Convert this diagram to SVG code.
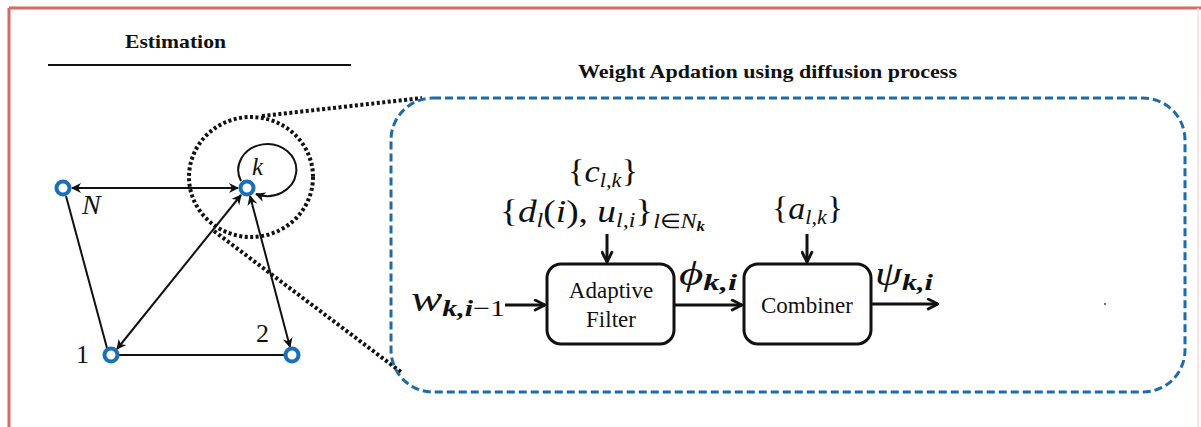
<svg xmlns="http://www.w3.org/2000/svg" width="1201" height="427" viewBox="0 0 1201 427">
  <defs>
    <style>
      .title { font-family: "Liberation Serif", "Times New Roman", serif; font-weight: bold; font-size: 19px; fill: #111; }
      .math { font-family: "Liberation Serif", "Times New Roman", serif; font-style: italic; fill: #111; }
      .up { font-style: normal; }
      .sub { font-weight: bold; }
      .rm { font-family: "Liberation Serif", "Times New Roman", serif; font-style: normal; fill: #111; }
      .node { fill: #fff; stroke: #1a6fb8; stroke-width: 4; }
      .edge { stroke: #111; stroke-width: 2; fill: none; }
      .flow { stroke: #111; stroke-width: 3; fill: none; }
      .block { fill: #fff; stroke: #111; stroke-width: 3; }
      .dots { stroke: #111; stroke-width: 4; fill: none; stroke-dasharray: 3 2.5; }
    </style>
    <marker id="ah" viewBox="0 0 10 10" refX="9" refY="5" markerWidth="10" markerHeight="10" markerUnits="userSpaceOnUse" orient="auto-start-reverse">
      <path d="M0,0 L10,5 L0,10 L3,5 z" fill="#111"/>
    </marker>
    <marker id="ahb" viewBox="0 0 12 12" refX="11" refY="6" markerWidth="13" markerHeight="13" markerUnits="userSpaceOnUse" orient="auto">
      <path d="M1,1 L11,6 L1,11" fill="none" stroke="#111" stroke-width="2.6" stroke-linejoin="miter"/>
    </marker>
  </defs>

  <rect width="1201" height="427" fill="#fff"/>
  <!-- outer frame -->
  <line x1="9" y1="8" x2="1201" y2="8" stroke="#d66a66" stroke-width="3"/>
  <line x1="9" y1="8" x2="9" y2="427" stroke="#d66a66" stroke-width="3"/>
  <line x1="1198" y1="8" x2="1198" y2="427" stroke="#f6dcdc" stroke-width="1.5"/>

  <!-- section headings -->
  <text class="title" x="125" y="48" textLength="101" lengthAdjust="spacingAndGlyphs">Estimation</text>
  <line x1="48" y1="65" x2="351" y2="65" stroke="#111" stroke-width="2"/>
  <text class="title" x="578" y="78" textLength="379" lengthAdjust="spacingAndGlyphs">Weight Apdation using diffusion process</text>

  <!-- zoom callout: neighbourhood of k -->
  <g id="zoom-callout">
    <ellipse class="dots" cx="251" cy="177" rx="62" ry="60"/>
    <line class="dots" x1="262" y1="116" x2="422" y2="98"/>
    <line class="dots" x1="214" y1="231" x2="401" y2="372"/>
    <rect x="391" y="98" width="794" height="294" rx="42" ry="42" fill="none" stroke="#1f6aa8" stroke-width="3" stroke-dasharray="8 4"/>
  </g>

  <!-- network links -->
  <g id="connectors">
    <line class="edge" x1="72" y1="188" x2="238" y2="188" marker-start="url(#ah)" marker-end="url(#ah)"/>
    <line class="edge" x1="66" y1="196" x2="107" y2="348"/>
    <line class="edge" x1="117" y1="349" x2="241" y2="195" marker-start="url(#ah)" marker-end="url(#ah)"/>
    <line class="edge" x1="250" y1="196" x2="290" y2="347" marker-start="url(#ah)" marker-end="url(#ah)"/>
    <line class="edge" x1="118" y1="355" x2="285" y2="355" stroke-width="3"/>
    <path class="edge" d="M241,181 A29,26 0 1 1 256,194" marker-end="url(#ah)"/>
  </g>

  <!-- agents -->
  <g id="node-N">
    <circle class="node" cx="63" cy="188" r="6.5"/>
    <text class="math" x="82" y="214" font-size="28">N</text>
  </g>
  <g id="node-k">
    <circle class="node" cx="247" cy="188" r="6.5"/>
    <text class="math" x="252" y="175" font-size="25">k</text>
  </g>
  <g id="node-1">
    <circle class="node" cx="111" cy="355" r="6.5"/>
    <text class="rm" x="76" y="363" font-size="26">1</text>
  </g>
  <g id="node-2">
    <circle class="node" cx="292" cy="355" r="6.5"/>
    <text class="rm" x="256" y="342" font-size="26">2</text>
  </g>

  <!-- diffusion block diagram -->
  <g id="block-connectors">
    <line class="flow" x1="505" y1="305" x2="545" y2="305" marker-end="url(#ahb)"/>
    <line class="flow" x1="675" y1="305" x2="742" y2="305" marker-end="url(#ahb)"/>
    <line class="flow" x1="872" y1="304" x2="938" y2="304" marker-end="url(#ahb)"/>
    <line class="flow" x1="607" y1="234" x2="607" y2="262" marker-end="url(#ahb)"/>
    <line class="flow" x1="807" y1="234" x2="807" y2="262" marker-end="url(#ahb)"/>
  </g>

  <g id="adaptive-filter">
    <rect class="block" x="547" y="264" width="127" height="80" rx="14"/>
    <text class="rm" style="font-family:'Liberation Serif','Times New Roman',serif" x="611" y="298" font-size="23" text-anchor="middle">Adaptive</text>
    <text class="rm" style="font-family:'Liberation Serif','Times New Roman',serif" x="611" y="327" font-size="23" text-anchor="middle">Filter</text>
  </g>
  <g id="combiner">
    <rect class="block" x="744" y="264" width="127" height="80" rx="14"/>
    <text class="rm" style="font-family:'Liberation Serif','Times New Roman',serif" x="807" y="313" font-size="23" text-anchor="middle">Combiner</text>
  </g>

  <g id="labels">
    <text class="math" x="411" y="311" font-size="36" textLength="94" lengthAdjust="spacingAndGlyphs">w<tspan class="sub" font-size="23" dy="5">k,i</tspan><tspan class="up" font-size="23">−1</tspan></text>
    <text class="math" x="679" y="285" font-size="33" textLength="58" lengthAdjust="spacingAndGlyphs">ϕ<tspan class="sub" font-size="23" dy="5">k,i</tspan></text>
    <text class="math" x="875" y="285" font-size="33" textLength="58" lengthAdjust="spacingAndGlyphs">ψ<tspan class="sub" font-size="23" dy="5">k,i</tspan></text>
    <text class="math" x="568" y="182" font-size="31" textLength="70" lengthAdjust="spacingAndGlyphs"><tspan class="up">{</tspan>c<tspan font-size="20" dy="5">l,k</tspan><tspan class="up" dy="-5">}</tspan></text>
    <text class="math" x="500" y="222" font-size="31" textLength="205" lengthAdjust="spacingAndGlyphs"><tspan class="up">{</tspan>d<tspan font-size="20" dy="5">l</tspan><tspan class="up" dy="-5">(</tspan>i<tspan class="up">), </tspan>u<tspan font-size="20" dy="5">l,i</tspan><tspan class="up" dy="-5">}</tspan><tspan font-size="20" dy="6">l</tspan><tspan class="up" font-size="20">∈</tspan><tspan font-size="20">N</tspan><tspan class="sub" font-size="14" dy="3">k</tspan></text>
    <text class="math" x="772" y="219" font-size="31" textLength="71" lengthAdjust="spacingAndGlyphs"><tspan class="up">{</tspan>a<tspan font-size="20" dy="5">l,k</tspan><tspan class="up" dy="-5">}</tspan></text>
  </g>

  <circle cx="1105" cy="304" r="0.9" fill="#333"/>
</svg>
